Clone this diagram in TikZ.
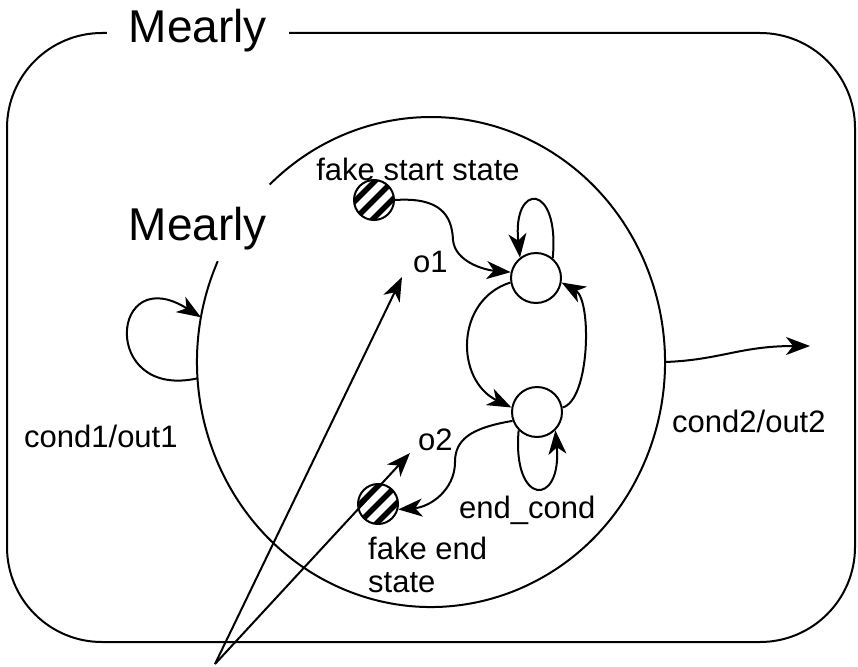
\documentclass[tikz,border=0pt]{standalone}
\usepackage{fontspec}
\setmainfont{Liberation Sans}
\usetikzlibrary{arrows.meta,shapes.geometric}
\tikzset{
  frameLine/.style={line width=2pt},
  stateNode/.style={circle, draw, line width=2pt, minimum size=50pt, inner sep=0pt, fill=white},
  fakeNode/.style={circle, draw, line width=2pt, minimum size=40pt, inner sep=0pt, fill=white,
    path picture={\foreach \k in {-2,...,2}
      \draw[line width=5.5pt] ([xshift=\k*18pt]path picture bounding box.center) ++(-30pt,-30pt) -- ++(60pt,60pt);}},
  bigLabel/.style={font=\fontsize{46}{50}\selectfont, inner sep=0pt},
  smallLabel/.style={font=\fontsize{31}{33}\selectfont, inner sep=0pt, align=left},
  flowArrow/.style={-{Stealth[length=24pt, width=18pt, inset=7pt]}, line width=2pt}
}
\begin{document}
\begin{tikzpicture}[x=1pt, y=1pt]
  \useasboundingbox (0,0) rectangle (858,-666);
  % outer machine
  \node[draw, frameLine, rounded corners=95pt, minimum width=848pt, minimum height=609pt, inner sep=0pt] (outer) at (431,-337.5) {};
  \node[bigLabel, fill=white, inner xsep=22pt, anchor=base] (title) at (198,-43) {Mearly};
  % inner machine
  \node[ellipse, minimum width=468pt, minimum height=490pt, inner sep=0pt, outer sep=0pt] (inner) at (431,-362) {};
  \draw[frameLine] ([shift={(155.7:234pt and 245pt)}]inner.center) arc[start angle=155.7, end angle=493.6, x radius=234pt, y radius=245pt];
  \node[bigLabel, anchor=base] (innerlabel) at (198,-240) {Mearly};
  % states
  \node[fakeNode] (fakestart) at (374,-200) {};
  \node[smallLabel, anchor=base] (startlabel) at (418,-180) {fake start state};
  \node[stateNode] (upper) at (536,-278) {};
  \node[stateNode] (lower) at (537,-412) {};
  \node[fakeNode] (fakeend) at (378,-504) {};
  \node[smallLabel, anchor=north west] (endlabel) at (368,-537) {fake end\\state};
  \node[smallLabel, anchor=base west] (oone) at (413,-272) {o1};
  \node[smallLabel, anchor=base west] (otwo) at (418,-450) {o2};
  \node[smallLabel, anchor=base west] (endcond) at (459,-518) {end\_cond};
  \node[smallLabel, anchor=base west] (condone) at (24,-447) {cond1/out1};
  \node[smallLabel, anchor=base west] (condtwo) at (672,-432) {cond2/out2};
  \coordinate (src) at (215,-664);
  \coordinate (tipone) at (402,-277);
  \coordinate (tiptwo) at (410,-453);
  \coordinate (outtip) at (810,-346);
  % transitions
  \draw[flowArrow] (fakestart.east) .. controls (440,-197) and (452,-215) .. (453,-240) .. controls (455,-262) and (485,-270) .. (upper.167);
  \draw[flowArrow] (upper.50) .. controls (560,-182) and (512,-182) .. (upper.128);
  \draw[flowArrow] (upper.190) .. controls (455,-300) and (455,-380) .. (lower.170);
  \draw[flowArrow] (lower.10) .. controls (590,-400) and (592,-300) .. (upper.-10);
  \draw[flowArrow] (lower.225) .. controls (512,-507) and (562,-507) .. (lower.-45);
  \draw[flowArrow] (lower.200) .. controls (470,-428) and (455,-440) .. (455,-462) .. controls (455,-490) and (430,-507) .. (fakeend.-15);
  \draw[flowArrow] (inner.184) .. controls (100,-400) and (110,-260) .. (inner.169);
  \draw[flowArrow] (inner.east) .. controls (720,-360) and (740,-346) .. (outtip);
  \draw[flowArrow] (src) -- (tipone);
  \draw[flowArrow] (src) -- (tiptwo);
\end{tikzpicture}
\end{document}
